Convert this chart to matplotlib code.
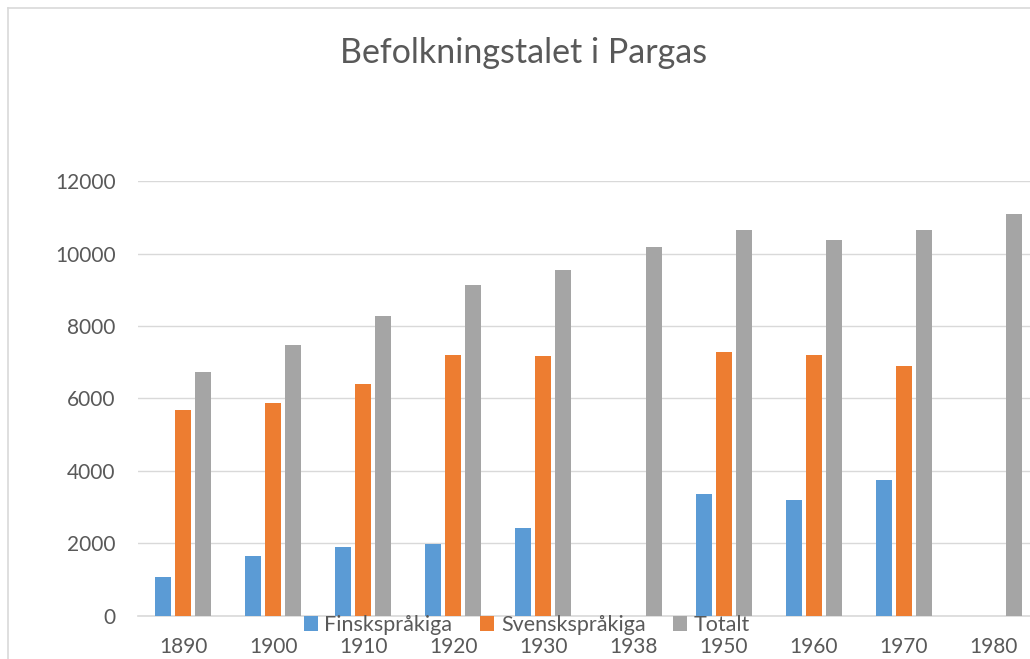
import numpy as np
import matplotlib
matplotlib.use("Agg")
import matplotlib.pyplot as plt
from matplotlib.lines import Line2D
from matplotlib.patches import Patch

plt.rcParams['font.family'] = ['Lato', 'DejaVu Sans']

years = ["1890", "1900", "1910", "1920", "1930", "1938", "1950", "1960", "1970", "1980"]
finsk = [1076, 1650, 1900, 1986, 2420, np.nan, 3366, 3200, 3752, np.nan]
svensk = [5683, 5876, 6400, 7190, 7172, np.nan, 7283, 7200, 6897, np.nan]
totalt = [6731, 7476, 8276, 9131, 9545, 10179, 10648, 10372, 10648, 11090]
series_names = ["Finskspråkiga", "Svenskspråkiga", "Totalt"]
colors = ["#5B9BD5", "#ED7D31", "#A5A5A5"]
yticks = [0, 2000, 4000, 6000, 8000, 10000, 12000]

W, H = 1030, 659
fig = plt.figure(figsize=(W / 100, H / 100), dpi=100)
ax = fig.add_axes([138 / W, 43.5 / H, (1039 - 138) / W, (615.5 - 181.3) / H])

x = np.arange(len(years))
bw = 16 / 90.1
step = 20 / 90.1
for i, (vals, c) in enumerate(zip([finsk, svensk, totalt], colors)):
    ax.bar(x + (i - 1) * step, vals, width=bw, color=c, zorder=3)

ax.set_xlim(-0.5, len(years) - 0.5)
ax.set_ylim(0, 12000)
ax.set_yticks(yticks)
ax.set_yticklabels([str(v) for v in yticks])
ax.set_xticks(x)
ax.set_xticklabels(years)
ax.tick_params(axis='both', length=0, labelsize=15, colors="#595959")
ax.tick_params(axis='y', pad=16)
ax.tick_params(axis='x', pad=15.5)
ax.grid(axis='y', color="#D9D9D9", linewidth=1.0, zorder=0)
ax.set_axisbelow(True)
for s in ["top", "right", "left"]:
    ax.spines[s].set_visible(False)
ax.spines["bottom"].set_color("#D9D9D9")
ax.spines["bottom"].set_linewidth(1.2)

fig.text(524 / W, 1 - 53 / H, "Befolkningstalet i Pargas", ha="center", va="center",
         fontsize=24.5, color="#595959")

handles = [Patch(facecolor=c, edgecolor='none') for c in colors]
leg = fig.legend(handles, series_names, loc="center", bbox_to_anchor=(527 / W, 1 - 625 / H),
                 ncol=3, frameon=False, fontsize=15.5, handlelength=0.65, handleheight=0.65,
                 handletextpad=0.3, columnspacing=1.3, borderaxespad=0, borderpad=0)
for t in leg.get_texts():
    t.set_color("#595959")

# chart area border
fig.add_artist(Line2D([8 / W, 8 / W], [0, 1 - 8 / H], color="#D9D9D9", linewidth=1.2))
fig.add_artist(Line2D([8 / W, 1], [1 - 8 / H, 1 - 8 / H], color="#D9D9D9", linewidth=1.2))

fig.savefig("out.png", dpi=100)
